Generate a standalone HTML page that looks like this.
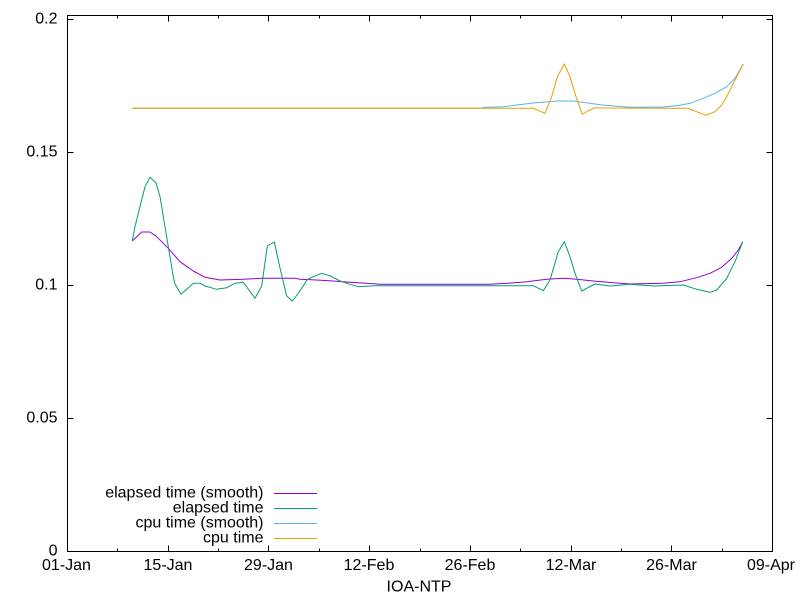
<!DOCTYPE html>
<html>
<head>
<meta charset="utf-8">
<style>
html,body{margin:0;padding:0;background:#fff;}
svg{display:block;}
text{font-family:"Liberation Sans",Arial,sans-serif;font-size:16px;fill:#000;}
</style>
</head>
<body>
<svg width="800" height="600" viewBox="0 0 800 600" xmlns="http://www.w3.org/2000/svg">
<rect x="0" y="0" width="800" height="600" fill="#fff"/>

<!-- y ticks -->
<g stroke="#000" stroke-width="1" shape-rendering="crispEdges">
  <path d="M67.5,551.5h6 M67.5,418.5h6 M67.5,285.5h6 M67.5,152.5h6 M67.5,19.5h6
           M772.5,551.5h-6 M772.5,418.5h-6 M772.5,285.5h-6 M772.5,152.5h-6 M772.5,19.5h-6"/>
  <!-- x major ticks -->
  <path d="M67.5,551.5v-6 M168.5,551.5v-6 M268.5,551.5v-6 M369.5,551.5v-6 M470.5,551.5v-6 M571.5,551.5v-6 M671.5,551.5v-6 M772.5,551.5v-6
           M67.5,15.5v6 M168.5,15.5v6 M268.5,15.5v6 M369.5,15.5v6 M470.5,15.5v6 M571.5,15.5v6 M671.5,15.5v6 M772.5,15.5v6"/>
  <!-- x minor ticks -->
  <path d="M117.5,551.5v-3 M218.5,551.5v-3 M319.5,551.5v-3 M420.5,551.5v-3 M520.5,551.5v-3 M621.5,551.5v-3 M722.5,551.5v-3
           M117.5,15.5v3 M218.5,15.5v3 M319.5,15.5v3 M420.5,15.5v3 M520.5,15.5v3 M621.5,15.5v3 M722.5,15.5v3"/>
  <rect x="67.5" y="15.5" width="705" height="536" fill="none"/>
</g>

<!-- y labels -->
<g text-anchor="end">
  <text x="57.5" y="555.5">0</text>
  <text x="57.5" y="422.5">0.05</text>
  <text x="57.5" y="289.5">0.1</text>
  <text x="57.5" y="156.5">0.15</text>
  <text x="57.5" y="23.5">0.2</text>
</g>

<!-- x labels -->
<g text-anchor="middle">
  <text x="66.5" y="570">01-Jan</text>
  <text x="168" y="570">15-Jan</text>
  <text x="268.5" y="570">29-Jan</text>
  <text x="369" y="570">12-Feb</text>
  <text x="470" y="570">26-Feb</text>
  <text x="571" y="570">12-Mar</text>
  <text x="671.5" y="570">26-Mar</text>
  <text x="771" y="570">09-Apr</text>
  <text x="419" y="591.5">IOA-NTP</text>
</g>

<!-- series -->
<g fill="none" stroke-width="1" stroke-linejoin="round">
  <polyline stroke="#9400d3" points="132.3,241 141.7,232 150,232 156.7,236.7 168.3,248.3 180,261.7 193.3,271 205,277.3 220,280 243.3,279.3 261.7,278.3 295,278.3 300,279.3 316.7,280 333.3,281 350,282.3 366.7,283.3 380,284.3 490,284.3 506.7,283.3 526.7,281.7 546.7,279.3 563.3,278.3 576.7,279.3 593.3,281 613.3,282.7 630,284 663.3,283.3 680,281.7 696.7,277.7 710,273.3 721.7,267.3 731.7,258.3 738.3,250 742.7,241.7"/>
  <polyline stroke="#009e73" points="132.3,241 135,226.7 140,206.7 145,186.7 150,177.3 156,182.7 160,196.7 163.3,216.7 168.3,246.7 173.3,276.7 175,284 181,294.3 187,289 193.3,283.3 200,283.3 205,286 216.7,289.3 226.7,287.7 235,283.3 243.3,282.3 255,298.3 261.7,286 267.3,246 274.3,242 280,268 286.7,296 292.3,301 297,295 303.3,286 306.7,280 313.3,276.7 321.7,273.3 330,275.7 340,281 350,284.3 358.3,286.7 375,285.7 533.3,285.7 543.3,290.7 550,280 558.3,251.7 564.3,241.7 570,256.7 575,273.3 581.7,291 595,284 610,286 630,284.3 653.3,286 683.3,285 696.7,289.3 710,292.3 716.7,290 726.7,278.3 735,261.7 742.7,241.7"/>
  <polyline stroke="#56b4e9" points="132.3,108.3 480,108.3 486,107.3 503.3,106.7 516.7,105 525,104 535,102.7 550,101.7 556.7,101 573.3,101 590,103.3 600,104.7 616.7,106.3 630,107.3 663.3,107 680,105.3 690,103.3 703.3,98.3 715,93.3 726.7,86.7 735,78.3 743.3,64"/>
  <polyline stroke="#e69f00" points="132.3,108.3 533.3,108.3 545,113.3 551.7,96.7 557.3,76.7 564.3,64 570,76.7 576,96.7 582.3,114.3 588,111 595,107.7 603.3,108 688.3,108.3 696.7,111.7 706,115.3 715,111.7 721.7,105 726.7,96.7 733.3,83.3 743.3,64"/>
</g>

<!-- legend -->
<g text-anchor="end">
  <text x="263.5" y="497.5">elapsed time (smooth)</text>
  <text x="263.5" y="512.5">elapsed time</text>
  <text x="263.5" y="527.5">cpu time (smooth)</text>
  <text x="263.5" y="542.5">cpu time</text>
</g>
<g stroke-width="1" shape-rendering="crispEdges">
  <line x1="274" y1="493.5" x2="317" y2="493.5" stroke="#9400d3"/>
  <line x1="274" y1="508.5" x2="317" y2="508.5" stroke="#009e73"/>
  <line x1="274" y1="523.5" x2="317" y2="523.5" stroke="#56b4e9"/>
  <line x1="274" y1="538.5" x2="317" y2="538.5" stroke="#e69f00"/>
</g>
</svg>
</body>
</html>
